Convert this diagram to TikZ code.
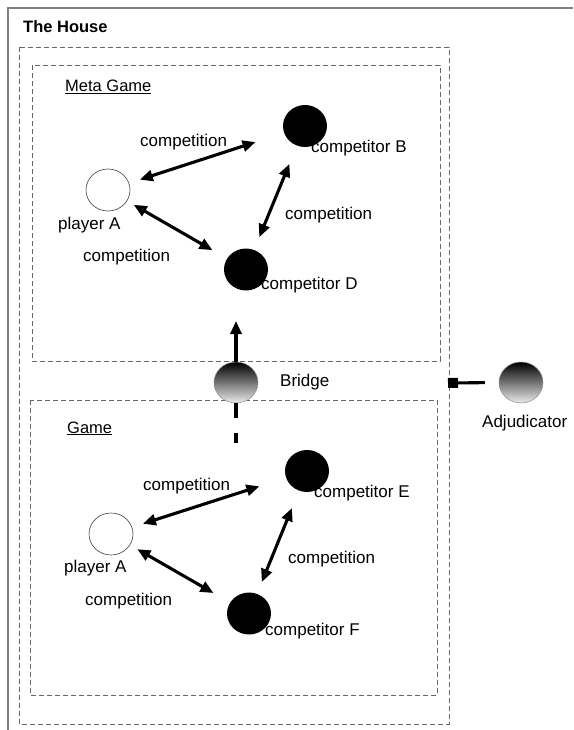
\documentclass[tikz,border=0pt]{standalone}
\usepackage{fontspec}
\setmainfont{Liberation Sans}
\usetikzlibrary{arrows.meta,calc,shapes.geometric}
\begin{document}
\begin{tikzpicture}[x=1pt,y=-1pt,
  frameline/.style={draw=black!50, line width=1.2pt},
  zone/.style={draw=black!60, line width=0.9pt, dash pattern=on 5pt off 3pt},
  player/.style={ellipse, draw=black!75, line width=0.6pt, fill=white,
    minimum width=44pt, minimum height=42pt, inner sep=0pt},
  rival/.style={ellipse, fill=black, minimum width=44pt, minimum height=42pt, inner sep=0pt},
  hub/.style={ellipse, draw=black!45, line width=0.5pt, top color=black, bottom color=black!8,
    minimum width=44pt, minimum height=41pt, inner sep=0pt},
  lbl/.style={anchor=west, inner sep=0pt, font=\fontsize{17}{20}\selectfont},
  title/.style={anchor=base west, inner sep=0pt, font=\fontsize{16.5}{20}\selectfont},
  tip/.tip={Triangle[length=13pt,width=11pt]},
  rivalry/.style={line width=3.1pt, tip-tip},
  link/.style={line width=3.1pt}]
\useasboundingbox (0,0) rectangle (573,730);

% outer frame and the dashed zones
\draw[frameline] (8,730) -- (8,8) -- (573,8);
\draw[zone] (19,47) rectangle (449,724);
\draw[zone] (32,65) rectangle (440,361);
\draw[zone] (30,400) rectangle (437,695);

\node[title, font=\bfseries\fontsize{16.5}{20}\selectfont] (house) at (23,33) {The House};
\node[title] (metatitle) at (65,91.5) {\underline{Meta Game}};
\node[title] (gametitle) at (67,433) {\underline{Game}};

% meta game
\node[player] (pa) at (108,190) {};
\node[rival] (cb) at (305,126) {};
\node[rival] (cd) at (246,269.5) {};
\node[lbl] (pal) at (58,225) {player A};
\node[lbl] (cbl) at (311,148) {competitor B};
\node[lbl] (cdl) at (261,285) {competitor D};
\draw[rivalry] ($(pa)!33.5pt!(cb)$) -- ($(cb)!52pt!(pa)$);
\draw[rivalry] ($(pa)!29.7pt!(cd)$) -- ($(cd)!38.7pt!(pa)$);
\draw[rivalry] ($(cb)!41pt!(cd)$) -- ($(cd)!35pt!(cb)$);
\node[lbl] (m1) at (140,142) {competition};
\node[lbl] (m2) at (83,257) {competition};
\node[lbl] (m3) at (285,215) {competition};

% bridge between the two games
\node[hub] (bridge) at (236,382.5) {};
\node[lbl] (bridgel) at (280,382) {Bridge};
\coordinate (up) at (236,321);
\coordinate (down) at (236,443);
\draw[link, -tip] (bridge.north) -- (up);
\draw[link, dash pattern=on 15pt off 15pt] (bridge.south) -- (down);

% adjudicator
\node[hub] (adj) at (521,382.5) {};
\node[lbl] (adjl) at (482,423) {Adjudicator};
\coordinate (edge) at (448,383);
\draw[link, shorten <=14pt, -{Square[length=10pt,width=10pt]}] (adj.west) -- (edge);

% game
\node[player] (pb) at (111,534) {};
\node[rival] (ce) at (307,471) {};
\node[rival] (cf) at (249,613.5) {};
\node[lbl] (pbl) at (64,568) {player A};
\node[lbl] (cel) at (314,493) {competitor E};
\node[lbl] (cfl) at (265,631) {competitor F};
\draw[rivalry] ($(pb)!33.5pt!(ce)$) -- ($(ce)!50pt!(pb)$);
\draw[rivalry] ($(pb)!30.4pt!(cf)$) -- ($(cf)!41pt!(pb)$);
\draw[rivalry] ($(ce)!40pt!(cf)$) -- ($(cf)!34pt!(ce)$);
\node[lbl] (g1) at (143,486) {competition};
\node[lbl] (g2) at (85,601) {competition};
\node[lbl] (g3) at (288,559) {competition};
\end{tikzpicture}
\end{document}
